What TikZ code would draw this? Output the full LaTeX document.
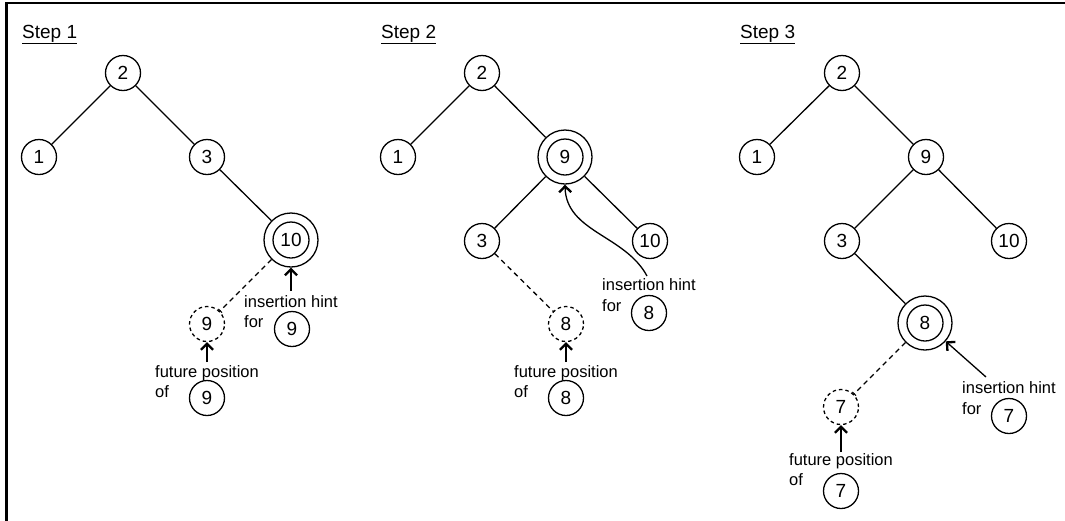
\documentclass[tikz,border=0pt]{standalone}
\usepackage{fontspec}
\setmainfont{Liberation Sans}
\usetikzlibrary{arrows.meta}
\begin{document}
\begin{tikzpicture}[x=1pt,y=-1pt,
  nd/.style={circle,draw,line width=1.3pt,minimum size=35pt,inner sep=0pt,font=\fontsize{19}{19}\selectfont},
  dnd/.style={nd,dash pattern=on 3.5pt off 3pt},
  big/.style={nd,minimum size=54pt,path picture={\draw[line width=1.3pt] (path picture bounding box.center) circle[radius=18pt];}},
  edge/.style={line width=1.3pt},
  dedge/.style={line width=1.3pt,dash pattern=on 5pt off 4pt},
  hint/.style={line width=1.3pt,-{Straight Barb[length=6pt,width=12pt,line width=2.3pt]}},
  lbl/.style={anchor=base west,inner sep=0pt,font=\fontsize{16.5}{16.5}\selectfont},
  steplbl/.style={anchor=base west,inner sep=0pt,font=\fontsize{19}{19}\selectfont}]
\useasboundingbox (0,0) rectangle (1065,520);
\draw[line width=2.5pt,line join=miter] (6.5,521) -- (6.5,3) -- (1066,3);

% Step 1
\node[steplbl] (s1) at (22,38) {\underline{Step 1}};
\node[nd] (a2) at (123,73) {2};
\node[nd] (a1) at (39,157) {1};
\node[nd] (a3) at (207,157) {3};
\node[big] (a10) at (291,240) {10};
\node[dnd] (a9) at (207,324) {9};
\node[nd] (ah) at (292,329) {9};
\node[nd] (af) at (207,398) {9};
\node[lbl] (at1) at (244,307) {insertion hint};
\node[lbl] (at2) at (244,327) {for};
\node[lbl] (at3) at (155,377) {future position};
\node[lbl] (at4) at (155,397) {of};
\coordinate (ah0) at (291,291);
\coordinate (af0) at (207,362);
\draw[edge] (a2) -- (a1);
\draw[edge] (a2) -- (a3);
\draw[edge] (a3) -- (a10);
\draw[dedge,-{Bar[width=5pt,line width=1pt]}] (a10) -- (a9);
\draw[hint] (ah0) -- (a10);
\draw[hint] (af0) -- (a9);

% Step 2
\node[steplbl] (s2) at (381,38) {\underline{Step 2}};
\node[nd] (b2) at (482,73) {2};
\node[nd] (b1) at (398,157) {1};
\node[big] (b9) at (565,157) {9};
\node[nd] (b3) at (482,241) {3};
\node[nd] (b10) at (650,241) {10};
\node[dnd] (b8) at (566,324) {8};
\node[nd] (bh) at (649,313) {8};
\node[nd] (bf) at (566,398) {8};
\node[lbl] (bt1) at (602,290) {insertion hint};
\node[lbl] (bt2) at (602,311) {for};
\node[lbl] (bt3) at (514,377) {future position};
\node[lbl] (bt4) at (514,397) {of};
\coordinate (bh0) at (647,276);
\coordinate (bf0) at (566,362);
\draw[edge] (b2) -- (b1);
\draw[edge] (b2) -- (b9);
\draw[edge] (b9) -- (b3);
\draw[edge] (b9) -- (b10);
\draw[dedge] (b3) -- (b8);
\draw[hint] (bh0) .. controls (625,235) and (566,232) .. (b9.south);
\draw[hint] (bf0) -- (b8);

% Step 3
\node[steplbl] (s3) at (740,38) {\underline{Step 3}};
\node[nd] (c2) at (842,73) {2};
\node[nd] (c1) at (757,157) {1};
\node[nd] (c9) at (926,157) {9};
\node[nd] (c3) at (842,241) {3};
\node[nd] (c10) at (1009,241) {10};
\node[big] (c8) at (925,323) {8};
\node[dnd] (c7) at (841,407) {7};
\node[nd] (ch) at (1009,416) {7};
\node[nd] (cf) at (841,491) {7};
\node[lbl] (ct1) at (962,393) {insertion hint};
\node[lbl] (ct2) at (962,414) {for};
\node[lbl] (ct3) at (789,465) {future position};
\node[lbl] (ct4) at (789,485) {of};
\coordinate (ch0) at (986,377);
\coordinate (cf0) at (841,452);
\draw[edge] (c2) -- (c1);
\draw[edge] (c2) -- (c9);
\draw[edge] (c9) -- (c3);
\draw[edge] (c9) -- (c10);
\draw[edge] (c3) -- (c8);
\draw[dedge,-{Bar[width=5pt,line width=1pt]}] (c8) -- (c7);
\draw[hint] (ch0) -- (c8);
\draw[hint] (cf0) -- (c7);
\end{tikzpicture}
\end{document}
